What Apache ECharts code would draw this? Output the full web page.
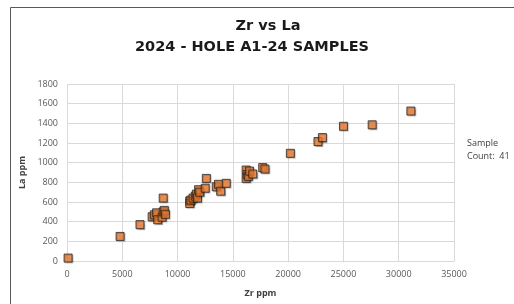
<!DOCTYPE html>
<html>
<head>
<meta charset="utf-8">
<script src="https://cdn.jsdelivr.net/npm/echarts@6/dist/echarts.min.js"></script>
<style>
html,body{margin:0;padding:0;background:#fff;}
#chart{width:514px;height:304px;}
</style>
</head>
<body>
<div id="chart"></div>
<script>
// Data
var zrPpm = [100, 4800, 6600,
  7700, 7900, 8100, 8200, 8600, 8700, 8800, 8900, 8700,
  11100, 11100, 11200, 11400, 11600, 11700, 11800, 11900, 12000, 12500, 12600, 13500, 13700, 13900, 14400,
  16200, 16200, 16300, 16400, 16500, 16800, 17700, 17900,
  20200, 22700, 23100, 25000, 27600, 31100];
var laPpm = [30, 250, 370,
  450, 470, 490, 420, 445, 500, 515, 475, 640,
  610, 585, 620, 640, 660, 680, 640, 725, 700, 740, 840, 755, 780, 710, 790,
  925, 840, 880, 860, 915, 885, 950, 935,
  1095, 1215, 1255, 1370, 1385, 1525];
var titleLines = ["Zr vs La", "2024 - HOLE A1-24 SAMPLES"];
var xTicks = [0, 5000, 10000, 15000, 20000, 25000, 30000, 35000];
var yTicks = [0, 200, 400, 600, 800, 1000, 1200, 1400, 1600, 1800];
var sampleCount = 41;

var points = zrPpm.map(function (x, i) { return [x, laPpm[i]]; });

var chart = echarts.init(document.getElementById('chart'), null, {renderer: 'canvas'});
var font = '"Open Sans", "Noto Sans", sans-serif';
var tfont = '"DejaVu Sans", sans-serif';
chart.setOption({
  animation: false,
  backgroundColor: '#ffffff',
  graphic: [
    {type: 'rect', left: 8, top: 5, shape: {width: 520, height: 310},
     style: {fill: 'none', stroke: '#595959', lineWidth: 1}, silent: true},
    {type: 'text', x: 268, y: 26, style: {text: titleLines[0], font: 'bold 14.5px ' + tfont,
      fill: '#1a1a1a', textAlign: 'center', textVerticalAlign: 'middle'}},
    {type: 'text', x: 252, y: 47, style: {text: titleLines[1], font: 'bold 14.5px ' + tfont,
      fill: '#1a1a1a', textAlign: 'center', textVerticalAlign: 'middle'}},
    {type: 'text', x: 467, y: 150, style: {text: 'Sample\nCount:  ' + sampleCount, font: '9px ' + font,
      fill: '#404040', lineHeight: 13, textVerticalAlign: 'middle'}}
  ],
  grid: {left: 67, right: 60, top: 84, bottom: 43, containLabel: false},
  xAxis: {
    type: 'value', min: xTicks[0], max: xTicks[xTicks.length - 1], interval: 5000,
    name: 'Zr ppm', nameLocation: 'middle', nameGap: 28,
    nameTextStyle: {fontFamily: font, fontWeight: 'bold', fontSize: 9, color: '#404040'},
    axisLine: {show: true, lineStyle: {color: '#d9d9d9'}},
    axisTick: {show: false},
    axisLabel: {fontFamily: font, fontSize: 9, color: '#595959', margin: 9,
      formatter: function (v) { return String(v); }},
    splitLine: {show: true, lineStyle: {color: '#d9d9d9'}}
  },
  yAxis: {
    type: 'value', min: yTicks[0], max: yTicks[yTicks.length - 1], interval: 200,
    name: 'La ppm', nameLocation: 'middle', nameGap: 37,
    nameTextStyle: {fontFamily: font, fontWeight: 'bold', fontSize: 9, color: '#404040'},
    axisLine: {show: false},
    axisTick: {show: false},
    axisLabel: {fontFamily: font, fontSize: 9, color: '#595959', margin: 9,
      formatter: function (v) { return String(v); }},
    splitLine: {show: true, lineStyle: {color: '#d9d9d9'}}
  },
  series: [{
    type: 'scatter', data: points, symbol: 'rect', symbolSize: 8,
    itemStyle: {color: '#ED7D31', borderColor: '#262626', borderWidth: 1,
      shadowBlur: 1, shadowColor: 'rgba(0,0,0,0.3)', shadowOffsetX: 1, shadowOffsetY: 1}
  }]
});
</script>
</body>
</html>
